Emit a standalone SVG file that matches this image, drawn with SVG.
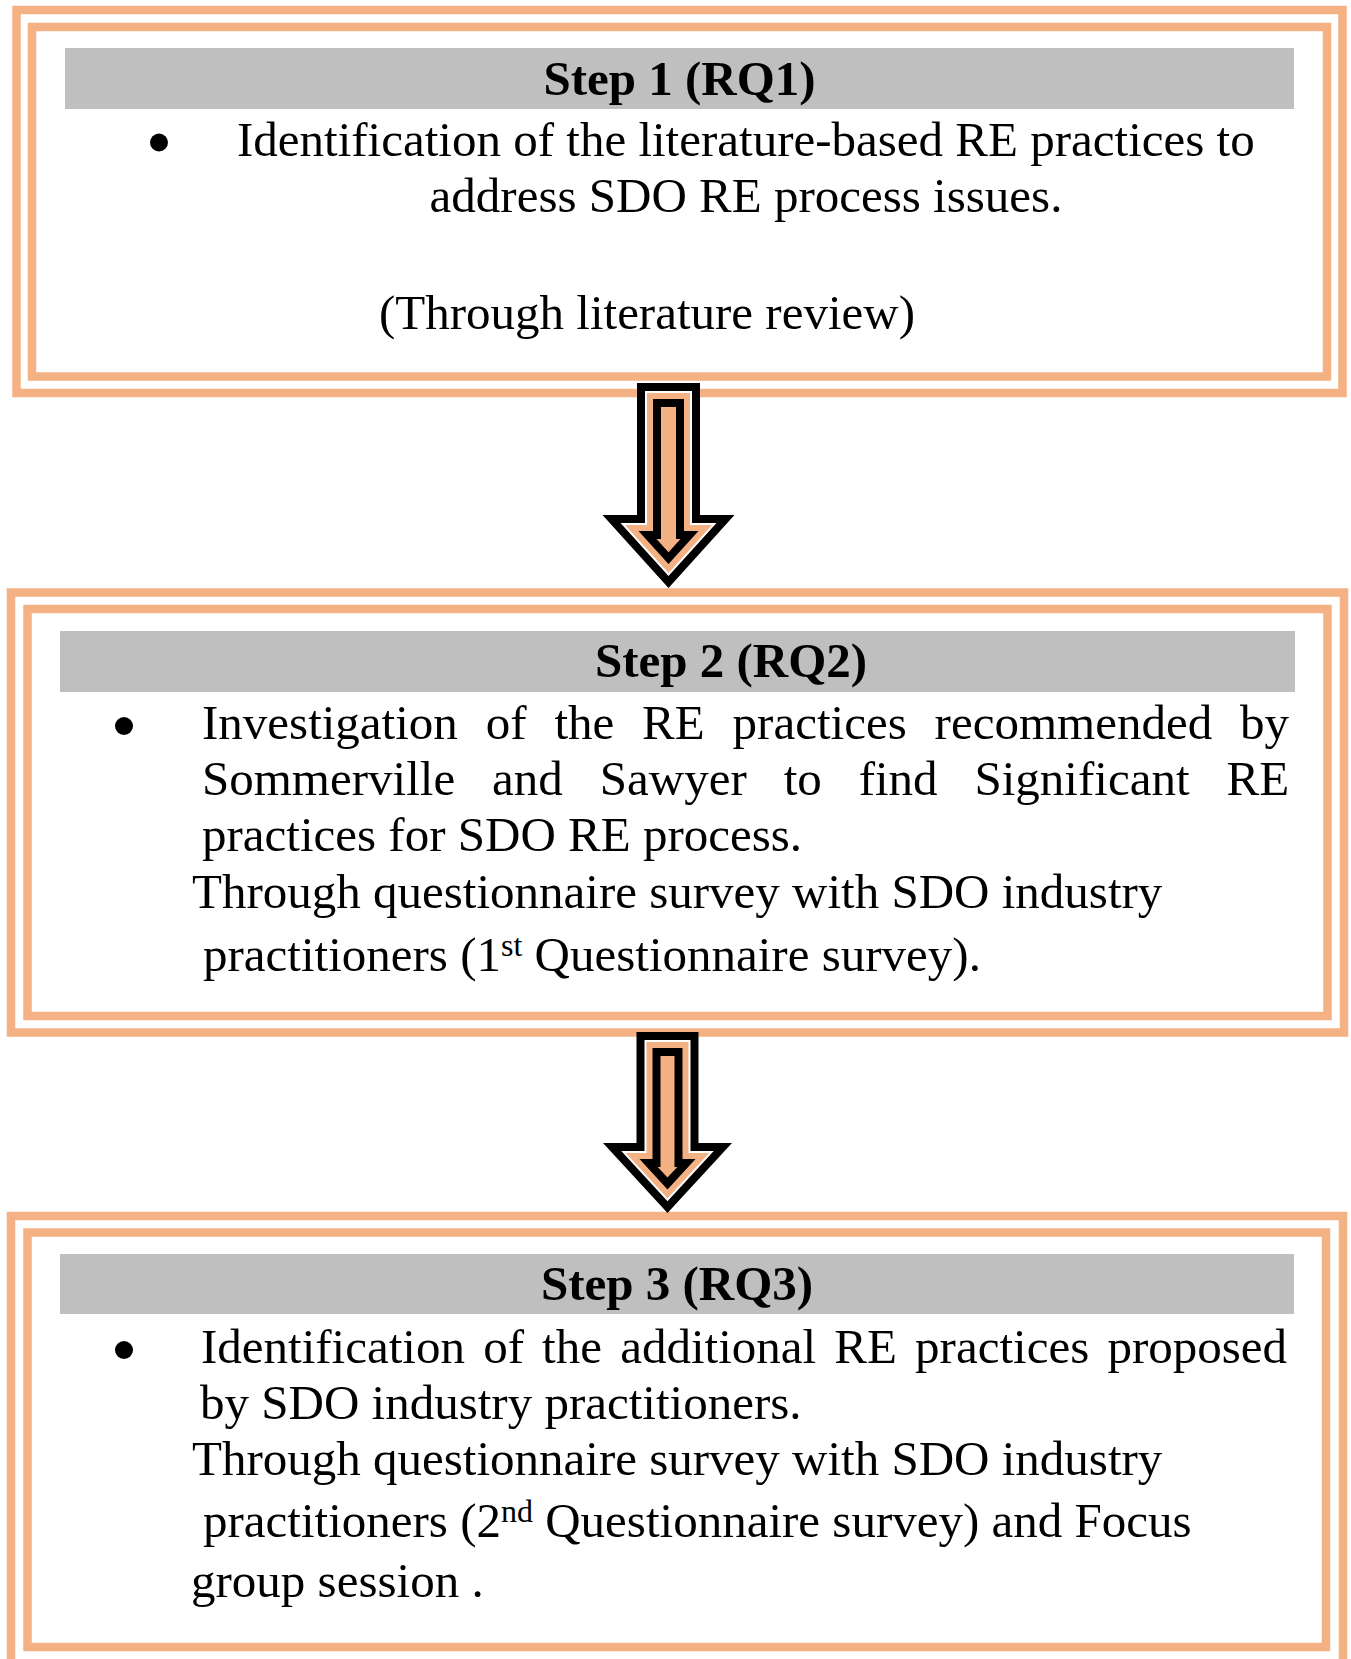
<svg xmlns="http://www.w3.org/2000/svg" width="1351" height="1659" viewBox="0 0 1351 1659">
<style>
.frame{fill:none;stroke:#F4B183;stroke-width:8.5}
.bar{fill:#BFBFBF}
.t{font-family:"Liberation Serif","Times New Roman",serif;font-size:49px;fill:#000}
.h{font-weight:bold;text-anchor:middle}
.c{text-anchor:middle}
.sup{font-size:32px}
.k{fill:#000}
.w{fill:#fff}
.o{fill:#F4B183}
</style>
<rect width="1351" height="1659" fill="#fff"/>
<g id="step1">
<rect class="frame" x="16.5" y="10" width="1326" height="383"/>
<rect class="frame" x="32" y="27" width="1295" height="349.5"/>
<rect class="bar" x="65" y="48" width="1229" height="61"/>
<text class="t h" x="679.5" y="95">Step 1 (RQ1)</text>
<circle class="k" cx="159" cy="142.5" r="9"/>
<text class="t" x="237" y="156">Identification of the literature-based RE practices to</text>
<text class="t c" x="746" y="211.5">address SDO RE process issues.</text>
<text class="t c" x="647" y="329">(Through literature review)</text>
</g>
<g id="step2">
<rect class="frame" x="11" y="592.5" width="1333" height="440"/>
<rect class="frame" x="27.5" y="609" width="1300" height="407"/>
<rect class="bar" x="60" y="631" width="1235" height="61"/>
<text class="t h" x="731" y="677">Step 2 (RQ2)</text>
<circle class="k" cx="124" cy="726" r="9"/>
<text class="t" y="739"><tspan x="202">Investigation</tspan><tspan x="485.7">of</tspan><tspan x="554.4">the</tspan><tspan x="642.1">RE</tspan><tspan x="732.6">practices</tspan><tspan x="934.6">recommended</tspan><tspan x="1240">by</tspan></text>
<text class="t" y="795"><tspan x="202">Sommerville</tspan><tspan x="492.1">and</tspan><tspan x="599.8">Sawyer</tspan><tspan x="783.7">to</tspan><tspan x="858.7">find</tspan><tspan x="974.5">Significant</tspan><tspan x="1226.5">RE</tspan></text>
<text class="t" x="202" y="851">practices for SDO RE process.</text>
<text class="t" x="192" y="908">Through questionnaire survey with SDO industry</text>
<text class="t" x="203" y="971">practitioners (1<tspan class="sup" dy="-15">st</tspan><tspan dy="15"> Questionnaire survey).</tspan></text>
</g>
<g id="step3">
<rect class="frame" x="11" y="1216" width="1332" height="448"/>
<rect class="frame" x="27.5" y="1232.5" width="1298.5" height="414.5"/>
<rect class="bar" x="60" y="1254" width="1234" height="60"/>
<text class="t h" x="677" y="1300">Step 3 (RQ3)</text>
<circle class="k" cx="124" cy="1350" r="9"/>
<text class="t" y="1363"><tspan x="201">Identification</tspan><tspan x="483.2">of</tspan><tspan x="542.1">the</tspan><tspan x="620.2">additional</tspan><tspan x="834.3">RE</tspan><tspan x="915.1">practices</tspan><tspan x="1107.4">proposed</tspan></text>
<text class="t" x="200" y="1419">by SDO industry practitioners.</text>
<text class="t" x="192" y="1475">Through questionnaire survey with SDO industry</text>
<text class="t" x="203" y="1537">practitioners (2<tspan class="sup" dy="-15">nd</tspan><tspan dy="15"> Questionnaire survey) and Focus</tspan></text>
<text class="t" x="191" y="1597">group session .</text>
</g>
<g id="connectors">
<g id="arrow1">
<polygon class="k" points="637,383 700,383 700,515 734.5,515 668.5,588 602.5,515 637,515"/>
<polygon class="w" points="645,391 692,391 692,523 716.5,523 668.5,576.1 620.5,523 645,523"/>
<polygon class="o" points="647,393 690,393 690,525 712,525 668.5,573.1 625,525 647,525"/>
<polygon class="k" points="653,399 684,399 684,531 698.5,531 668.5,564.1 638.5,531 653,531"/>
<polygon class="o" points="661,407 676,407 676,539 680.5,539 668.5,552.2 656.5,539 661,539"/>
</g>
<g id="arrow2">
<polygon class="k" points="636.5,1032 698.5,1032 698.5,1143 732,1143 667.5,1213 603,1143 636.5,1143"/>
<polygon class="w" points="644.5,1040 690.5,1040 690.5,1151 713.75,1151 667.5,1201.2 621.25,1151 644.5,1151"/>
<polygon class="o" points="646.5,1042 688.5,1042 688.5,1153 709.2,1153 667.5,1198.2 625.8,1153 646.5,1153"/>
<polygon class="k" points="652.5,1048 682.5,1048 682.5,1159 695.5,1159 667.5,1189.4 639.5,1159 652.5,1159"/>
<polygon class="o" points="660.5,1056 674.5,1056 674.5,1167 677.3,1167 667.5,1177.6 657.7,1167 660.5,1167"/>
</g>
</g>
</svg>
